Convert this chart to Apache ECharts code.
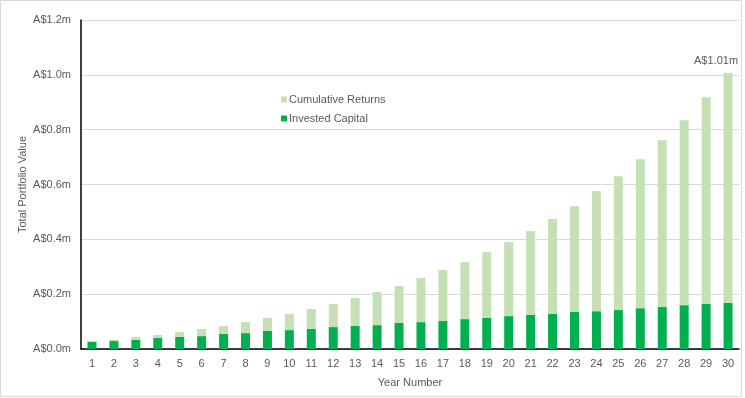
<!DOCTYPE html>
<head>
    <meta charset="utf-8">
    <title>Portfolio Growth</title>
    <style>
        body { margin: 0; background: #fff; }
    </style>
</head>
<body>
    <script type="text/javascript" src="https://cdn.jsdelivr.net/npm/echarts@6/dist/echarts.min.js"></script>

    <div id="main" style="width: 745px;height:398px;"></div>

    <script type="text/javascript">
        // years on the x axis
        var years = [];
        for (var i = 1; i <= 30; i++) { years.push(String(i)); }

        // invested capital, A$ millions
        var invested = [0.026, 0.029, 0.034, 0.040, 0.044, 0.047, 0.055, 0.058, 0.066, 0.069,
                        0.073, 0.080, 0.084, 0.087, 0.095, 0.098, 0.102, 0.109, 0.113, 0.120,
                        0.124, 0.128, 0.135, 0.138, 0.142, 0.149, 0.153, 0.160, 0.164, 0.168];

        // total portfolio value, A$ millions
        var totals = [0.030, 0.034, 0.044, 0.051, 0.062, 0.073, 0.084, 0.098, 0.113, 0.128,
                      0.146, 0.164, 0.186, 0.208, 0.230, 0.259, 0.288, 0.317, 0.353, 0.390,
                      0.430, 0.474, 0.521, 0.576, 0.630, 0.692, 0.761, 0.834, 0.918, 1.008];

        // cumulative returns = total - invested
        var returns = totals.map(function (t, i) { return +(t - invested[i]).toFixed(3); });

        var yTicks = [0, 0.2, 0.4, 0.6, 0.8, 1.0, 1.2];

        var txt = '#595959';
        var myChart = echarts.init(document.getElementById('main'));
        myChart.setOption({
            animation: false,
            textStyle: { fontFamily: 'Liberation Sans, Arial, sans-serif' },
            graphic: [{
                type: 'rect',
                shape: { x: 0.5, y: 0.5, width: 741, height: 396 },
                style: { fill: 'none', stroke: '#d9d9d9', lineWidth: 1 },
                silent: true
            }],
            grid: { left: 81, right: 6, top: 20, bottom: 49 },
            legend: {
                orient: 'vertical',
                left: 276,
                top: 89,
                itemWidth: 6,
                itemHeight: 6,
                itemGap: 8,
                icon: 'rect',
                textStyle: { color: txt, fontSize: 11, padding: [0, 0, 0, -3] },
                data: ['Cumulative Returns', 'Invested Capital']
            },
            xAxis: {
                type: 'category',
                data: years,
                name: 'Year Number',
                nameLocation: 'middle',
                nameGap: 28,
                nameTextStyle: { color: txt, fontSize: 11 },
                axisLine: { lineStyle: { color: '#000', width: 1.5 } },
                axisTick: { show: false },
                axisLabel: { color: txt, fontSize: 11, margin: 9, interval: 0 }
            },
            yAxis: {
                type: 'value',
                min: yTicks[0],
                max: yTicks[yTicks.length - 1],
                interval: 0.2,
                name: 'Total Portfolio Value',
                nameLocation: 'middle',
                nameMoveOverlap: false,
                nameGap: 53,
                nameTextStyle: { color: txt, fontSize: 11 },
                axisLine: { show: true, lineStyle: { color: '#000', width: 1.5 } },
                axisTick: { show: false },
                splitLine: { lineStyle: { color: '#d9d9d9' } },
                axisLabel: {
                    color: txt, fontSize: 11, margin: 10,
                    formatter: function (v) { return 'A$' + v.toFixed(1) + 'm'; }
                }
            },
            series: [
                {
                    name: 'Invested Capital',
                    type: 'bar',
                    stack: 'total',
                    barWidth: 9,
                    itemStyle: { color: '#00b050' },
                    data: invested
                },
                {
                    name: 'Cumulative Returns',
                    type: 'bar',
                    stack: 'total',
                    barWidth: 9,
                    itemStyle: { color: '#c5e0b4' },
                    data: returns.map(function (v, i) {
                        if (i === returns.length - 1) {
                            return {
                                value: v,
                                label: {
                                    show: true,
                                    position: 'top',
                                    offset: [-12, -1],
                                    color: txt,
                                    fontSize: 11,
                                    formatter: function () {
                                        return 'A$' + totals[i].toFixed(2) + 'm';
                                    }
                                }
                            };
                        }
                        return v;
                    })
                }
            ]
        });
    </script>
</body>
